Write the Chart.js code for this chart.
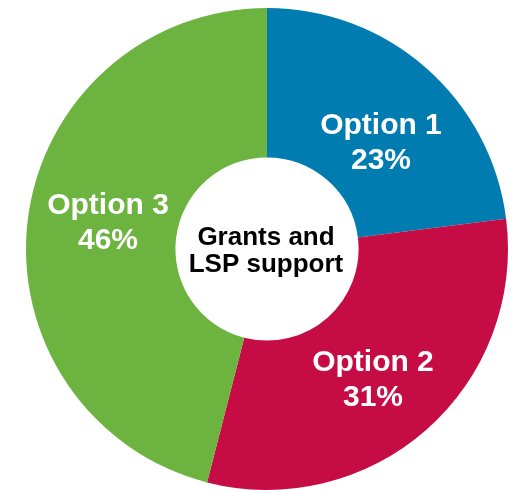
<!DOCTYPE html>
<html>
<head>
<meta charset="utf-8">
<script src="https://cdn.jsdelivr.net/npm/chart.js@4.4.0/dist/chart.umd.min.js"></script>
<style>
  html, body { margin: 0; padding: 0; background: #fff; }
  #wrap { width: 524px; height: 490px; position: relative; }
</style>
</head>
<body>
<div id="wrap"><canvas id="supportChart"></canvas></div>
<script>
const labels = ["Option 1", "Option 2", "Option 3"];
const shares = [23, 31, 46];
const centerLines = ["Grants and", "LSP support"];

const sliceColors = ["#007cb1", "#c50c45", "#6db33f"];
// small shifts of each label block away from the slice centre point
const labelNudge = [[4, 16], [-4, 4], [6, -8]];

const sliceLabels = {
  id: "sliceLabels",
  afterDraw(chart) {
    const ctx = chart.ctx;
    const meta = chart.getDatasetMeta(0);
    ctx.save();
    ctx.textAlign = "center";
    ctx.textBaseline = "alphabetic";

    // slice names and percentages
    ctx.fillStyle = "#ffffff";
    ctx.font = "bold 30px 'Liberation Sans', Arial, sans-serif";
    meta.data.forEach((arc, i) => {
      const p = arc.getCenterPoint();
      const cx = p.x + labelNudge[i][0];
      const cy = p.y + labelNudge[i][1];
      const gap = 35;
      ctx.fillText(labels[i], cx, cy - gap / 2 + 11);
      ctx.fillText(shares[i] + "%", cx, cy + gap / 2 + 11);
    });

    // title in the hole
    const arc0 = meta.data[0];
    ctx.fillStyle = "#000000";
    ctx.font = "bold 26px 'Liberation Sans', Arial, sans-serif";
    const gap = 27;
    centerLines.forEach((line, i) => {
      const y = arc0.y + (i - (centerLines.length - 1) / 2) * gap + 9;
      ctx.fillText(line, arc0.x - 1, y);
    });
    ctx.restore();
  }
};

new Chart(document.getElementById("supportChart"), {
  type: "doughnut",
  data: {
    labels: labels,
    datasets: [
      {
        data: shares,
        backgroundColor: sliceColors,
        borderWidth: 0,
        hoverOffset: 0,
      },
    ],
  },
  options: {
    responsive: true,
    maintainAspectRatio: false,
    animation: false,
    cutout: "38%",
    layout: { padding: { left: 10, right: 0, top: 8, bottom: 0 } },
    plugins: {
      legend: { display: false },
      tooltip: { enabled: false },
    },
    events: [],
  },
  plugins: [sliceLabels],
});
</script>
</body>
</html>
